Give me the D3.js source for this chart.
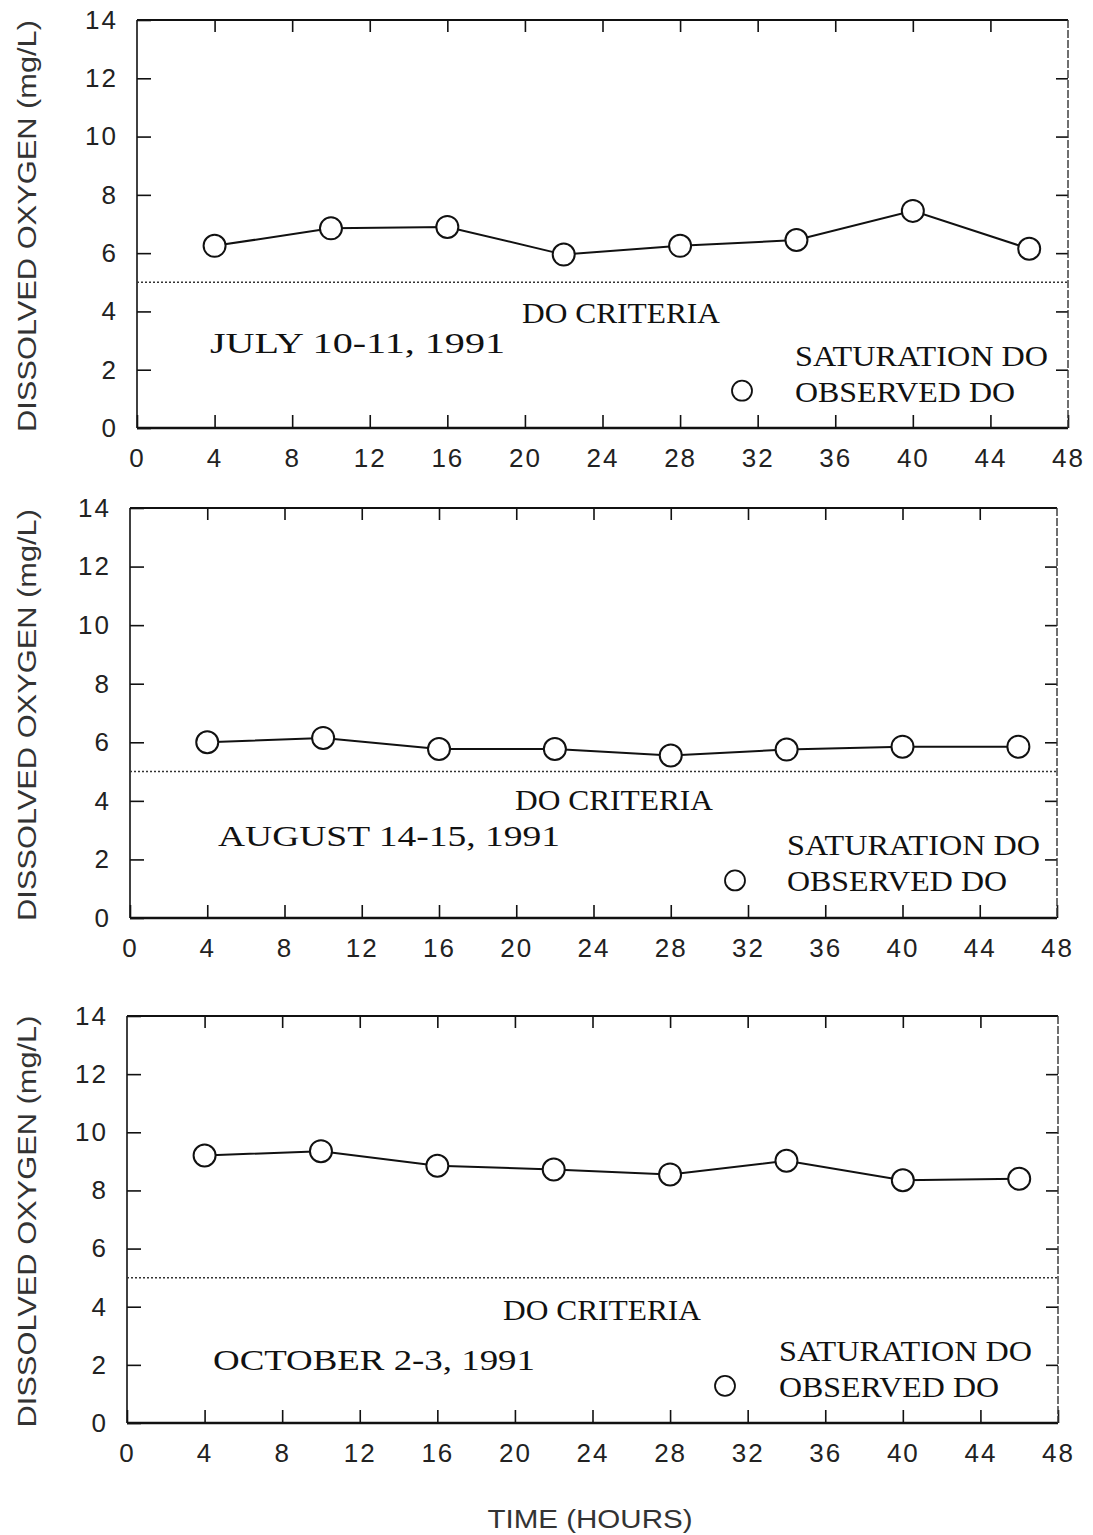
<!DOCTYPE html>
<html>
<head>
<meta charset="utf-8">
<script src="https://cdn.jsdelivr.net/npm/d3@7"></script>
<style>
  body { margin: 0; background: #fff; }
  .tick text { font-family: "Liberation Sans", Arial, sans-serif; font-size: 26px; fill: #222; letter-spacing: 2px; }
  .note { font-family: "Liberation Serif", "Times New Roman", serif; font-size: 30px; fill: #111; }
  .ylab { font-family: "Liberation Sans", Arial, sans-serif; font-size: 26px; fill: #333; }
</style>
</head>
<body>
<div id="chart"></div>
<script>
// sampling times (hours) and observed DO (mg/L)
const hours = [4, 10, 16, 22, 28, 34, 40, 46];
const julyDO = [6.25, 6.85, 6.9, 5.95, 6.25, 6.45, 7.45, 6.15];
const augustDO = [6.0, 6.15, 5.77, 5.77, 5.55, 5.75, 5.85, 5.85];
const octoberDO = [9.2, 9.35, 8.85, 8.72, 8.55, 9.02, 8.35, 8.4];
const doCriteria = 5;
const xTicks = [0, 4, 8, 12, 16, 20, 24, 28, 32, 36, 40, 44, 48];
const yTicks = [0, 2, 4, 6, 8, 10, 12, 14];
const dateLabels = ["JULY 10-11, 1991", "AUGUST 14-15, 1991", "OCTOBER 2-3, 1991"];

const width = 1093, height = 1535;
const svg = d3.select('#chart').append('svg')
    .attr('width', width)
    .attr('height', height);

// panel boxes (pixels), roughly following the scanned page
const panels = [
    {left: 137, right: 1068, top: 20, bottom: 428, values: julyDO, label: dateLabels[0],
     crit: [522, 323], date: [210, 353, 295], leg: [795, 742]},
    {left: 130, right: 1057, top: 508, bottom: 918, values: augustDO, label: dateLabels[1],
     crit: [515, 810], date: [218, 846, 342], leg: [787, 735]},
    {left: 127, right: 1058, top: 1016, bottom: 1423, values: octoberDO, label: dateLabels[2],
     crit: [503, 1320], date: [213, 1370, 322], leg: [779, 725]}
];

panels.forEach(function(p) {
    const x = d3.scaleLinear().domain([0, 48]).range([p.left, p.right]);
    const y = d3.scaleLinear().domain([0, 14]).range([p.bottom, p.top]);
    const g = svg.append('g');

    // axes with inward ticks
    g.append('g')
        .attr('transform', 'translate(0,' + p.bottom + ')')
        .call(d3.axisBottom(x).tickValues(xTicks).tickSize(-13).tickPadding(21).tickFormat(d3.format('d')));
    g.append('g')
        .attr('transform', 'translate(0,' + p.top + ')')
        .call(d3.axisTop(x).tickValues(xTicks.slice(1, -1)).tickSize(-12).tickFormat(''));
    g.append('g')
        .attr('transform', 'translate(' + p.left + ',0)')
        .call(d3.axisLeft(y).tickValues(yTicks).tickSize(-14).tickPadding(19).tickFormat(d3.format('d')));
    g.append('g')
        .attr('transform', 'translate(' + p.right + ',0)')
        .call(d3.axisRight(y).tickValues(yTicks.slice(1, -1)).tickSize(-12).tickFormat(''));
    g.selectAll('.domain').remove();
    g.selectAll('.tick line').attr('stroke', '#111').attr('stroke-width', 1.6);

    // frame
    g.append('line').attr('x1', p.left).attr('x2', p.right).attr('y1', p.top).attr('y2', p.top)
        .attr('stroke', '#111').attr('stroke-width', 2.2);
    g.append('line').attr('x1', p.left).attr('x2', p.right).attr('y1', p.bottom).attr('y2', p.bottom)
        .attr('stroke', '#111').attr('stroke-width', 2.4);
    g.append('line').attr('x1', p.left).attr('x2', p.left).attr('y1', p.top).attr('y2', p.bottom)
        .attr('stroke', '#111').attr('stroke-width', 1.6);
    g.append('line').attr('x1', p.right).attr('x2', p.right).attr('y1', p.top).attr('y2', p.bottom)
        .attr('stroke', '#333').attr('stroke-width', 1.4).attr('stroke-dasharray', '8,2');

    // DO criteria line
    g.append('line')
        .attr('x1', x(0)).attr('x2', x(48))
        .attr('y1', y(doCriteria)).attr('y2', y(doCriteria))
        .attr('stroke', '#333').attr('stroke-width', 1.5).attr('stroke-dasharray', '2,2');

    // observed DO line + markers
    const line = d3.line()
        .x(function(d, i) { return x(hours[i]); })
        .y(function(d) { return y(d); });
    g.append('path')
        .datum(p.values)
        .attr('d', line)
        .attr('fill', 'none')
        .attr('stroke', '#111')
        .attr('stroke-width', 2);
    g.selectAll('circle.obs')
        .data(p.values)
        .enter().append('circle')
        .attr('class', 'obs')
        .attr('cx', function(d, i) { return x(hours[i]); })
        .attr('cy', function(d) { return y(d); })
        .attr('r', 11)
        .attr('fill', '#fff')
        .attr('stroke', '#111')
        .attr('stroke-width', 2);

    // annotations (typewriter-ish serif, stretched to the scanned widths)
    g.append('text').attr('class', 'note')
        .attr('x', p.crit[0]).attr('y', p.crit[1])
        .attr('textLength', 198).attr('lengthAdjust', 'spacingAndGlyphs')
        .text('DO CRITERIA');
    g.append('text').attr('class', 'note')
        .attr('x', p.date[0]).attr('y', p.date[1])
        .attr('textLength', p.date[2]).attr('lengthAdjust', 'spacingAndGlyphs')
        .text(p.label);
    g.append('text').attr('class', 'note')
        .attr('x', p.leg[0]).attr('y', y(2) - 4)
        .attr('textLength', 253).attr('lengthAdjust', 'spacingAndGlyphs')
        .text('SATURATION DO');
    g.append('text').attr('class', 'note')
        .attr('x', p.leg[0]).attr('y', y(2) + 32)
        .attr('textLength', 220).attr('lengthAdjust', 'spacingAndGlyphs')
        .text('OBSERVED DO');
    g.append('circle')
        .attr('cx', p.leg[1]).attr('cy', y(2) + 21)
        .attr('r', 10)
        .attr('fill', '#fff').attr('stroke', '#111').attr('stroke-width', 1.8);

    // y axis title
    g.append('text').attr('class', 'ylab')
        .attr('transform', 'translate(' + 36 + ',' + ((p.top + p.bottom) / 2 + 2) + ') rotate(-90)')
        .attr('text-anchor', 'middle')
        .attr('textLength', 412)
        .attr('lengthAdjust', 'spacingAndGlyphs')
        .text('DISSOLVED OXYGEN (mg/L)');
});

// x axis title
svg.append('text').attr('class', 'ylab')
    .attr('x', 590).attr('y', 1528)
    .attr('text-anchor', 'middle')
    .attr('textLength', 205)
    .attr('lengthAdjust', 'spacingAndGlyphs')
    .text('TIME (HOURS)');
</script>
</body>
</html>
